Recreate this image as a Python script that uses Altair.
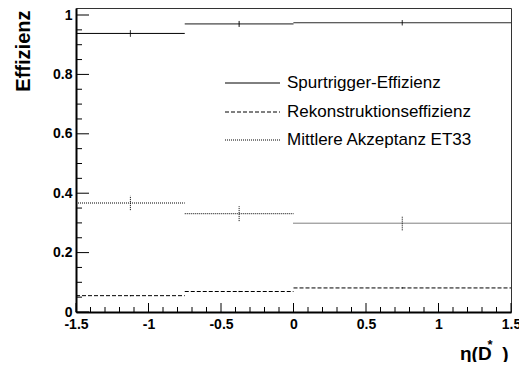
import altair as alt
import pandas as pd

# ---- data ----
bin_lo = [-1.5, -0.75, 0.0]
bin_hi = [-0.75, 0.0, 1.5]
bin_mid = [-1.125, -0.375, 0.75]

series_names = ["Spurtrigger-Effizienz", "Rekonstruktionseffizienz", "Mittlere Akzeptanz ET33"]
spur = [0.938, 0.970, 0.974]
spur_err = [0.011, 0.010, 0.009]
reko = [0.055, 0.069, 0.081]
reko_err = [0.002, 0.002, 0.002]
akz = [0.367, 0.331, 0.299]
akz_err = [0.024, 0.025, 0.024]

x_major = [-1.5, -1.0, -0.5, 0.0, 0.5, 1.0, 1.5]
x_minor = [-1.4, -1.3, -1.2, -1.1, -0.9, -0.8, -0.7, -0.6, -0.4, -0.3, -0.2, -0.1,
           0.1, 0.2, 0.3, 0.4, 0.6, 0.7, 0.8, 0.9, 1.1, 1.2, 1.3, 1.4]
y_major = [0.0, 0.2, 0.4, 0.6, 0.8, 1.0]
y_minor = [0.05, 0.1, 0.15, 0.25, 0.3, 0.35, 0.45, 0.5, 0.55, 0.65, 0.7, 0.75,
           0.85, 0.9, 0.95]

rows = []
for name, vals, errs in zip(series_names, [spur, reko, akz], [spur_err, reko_err, akz_err]):
    for lo, hi, mid, v, e in zip(bin_lo, bin_hi, bin_mid, vals, errs):
        rows.append({"series": name, "lo": lo, "hi": hi, "mid": mid, "val": v,
                     "elo": v - e, "ehi": v + e})
df = pd.DataFrame(rows)

W, H = 435, 304
FONT = "Liberation Sans"
dashes = [[1, 0], [4, 2], [1, 1]]

xs = alt.Scale(domain=[-1.5, 1.5], nice=False, zero=False)
ys = alt.Scale(domain=[0, 1.0236], nice=False, zero=False)

xaxis = alt.Axis(values=x_major,
                 labelExpr="datum.value == 1.5 ? '1.5\u00a0\u00a0' : '' + datum.value",
                 labelFlush=False,
                 ticks=False, grid=False, domain=True, domainColor="black", domainWidth=2,
                 labelFont=FONT, labelFontWeight="bold", labelFontSize=14, labelColor="black",
                 labelPadding=5, labelOverlap=False,
                 title="η(D\u00a0\u00a0)", titleFont=FONT, titleFontWeight="bold", titleFontSize=19,
                 titleColor="black", titleAnchor="end", titleAlign="right",
                 titleX=432, titleY=47, titleBaseline="alphabetic")
yaxis = alt.Axis(values=y_major, labelExpr="'' + datum.value",
                 ticks=False, grid=False, domain=True, domainColor="black", domainWidth=2,
                 labelFont=FONT, labelFontWeight="bold", labelFontSize=14, labelColor="black",
                 labelPadding=4, labelOverlap=False,
                 title="Effizienz", titleFont=FONT, titleFontWeight="bold", titleFontSize=20,
                 titleColor="black", titleAngle=-90, titleAlign="right", titleAnchor="end",
                 titleX=-47, titleY=2, titleBaseline="alphabetic")

dash_enc = alt.StrokeDash("series:N", scale=alt.Scale(domain=series_names, range=dashes), legend=None)

hist = alt.Chart(df).mark_rule(color="black", strokeWidth=1).encode(
    x=alt.X("lo:Q", scale=xs, axis=xaxis), x2="hi:Q",
    y=alt.Y("val:Q", scale=ys, axis=yaxis),
    strokeDash=dash_enc)

errs = alt.Chart(df).mark_rule(color="black", strokeWidth=1).encode(
    x=alt.X("mid:Q", scale=xs, axis=xaxis),
    y=alt.Y("elo:Q", scale=ys, axis=yaxis), y2="ehi:Q",
    strokeDash=dash_enc)

def yticks(vals, length):
    return alt.Chart(pd.DataFrame({"v": vals})).mark_rule(color="black", strokeWidth=1).encode(
        y=alt.Y("v:Q", scale=ys, axis=yaxis), x=alt.value(0), x2=alt.value(length))

def xticks(vals, length):
    return alt.Chart(pd.DataFrame({"v": vals})).mark_rule(color="black", strokeWidth=1).encode(
        x=alt.X("v:Q", scale=xs, axis=xaxis), y=alt.value(H), y2=alt.value(H - length))

layers = [hist, errs, yticks(y_major, 13), yticks(y_minor, 6), xticks(x_major, 9), xticks(x_minor, 5)]

# superscript star of the x title
star = alt.Chart(pd.DataFrame({"t": ["*"]})).mark_text(
    font=FONT, fontWeight="bold", fontSize=13, color="black", align="center", baseline="middle"
).encode(text="t:N", x=alt.value(414), y=alt.value(337))
layers.append(star)

# manual legend
leg_rows = [75, 104, 132]
for name, dash, ly in zip(series_names, dashes, leg_rows):
    ldf = pd.DataFrame({"series": [name]})
    line = alt.Chart(ldf).mark_rule(color="black", strokeWidth=1, strokeDash=dash).encode(
        x=alt.value(149), x2=alt.value(204), y=alt.value(ly))
    txt = alt.Chart(ldf).mark_text(font=FONT, fontSize=17, color="black", align="left",
                                   baseline="middle").encode(
        text="series:N", x=alt.value(211), y=alt.value(ly))
    layers += [line, txt]

chart = alt.layer(*layers).properties(
    width=W, height=H,
    autosize=alt.AutoSizeParams(type="none"),
    padding={"left": 68, "top": 0, "right": 8, "bottom": 50},
    background="white",
).configure_view(stroke="#333333", strokeWidth=1)

chart.save("out.html", embed_options={"renderer": "svg", "actions": False})
